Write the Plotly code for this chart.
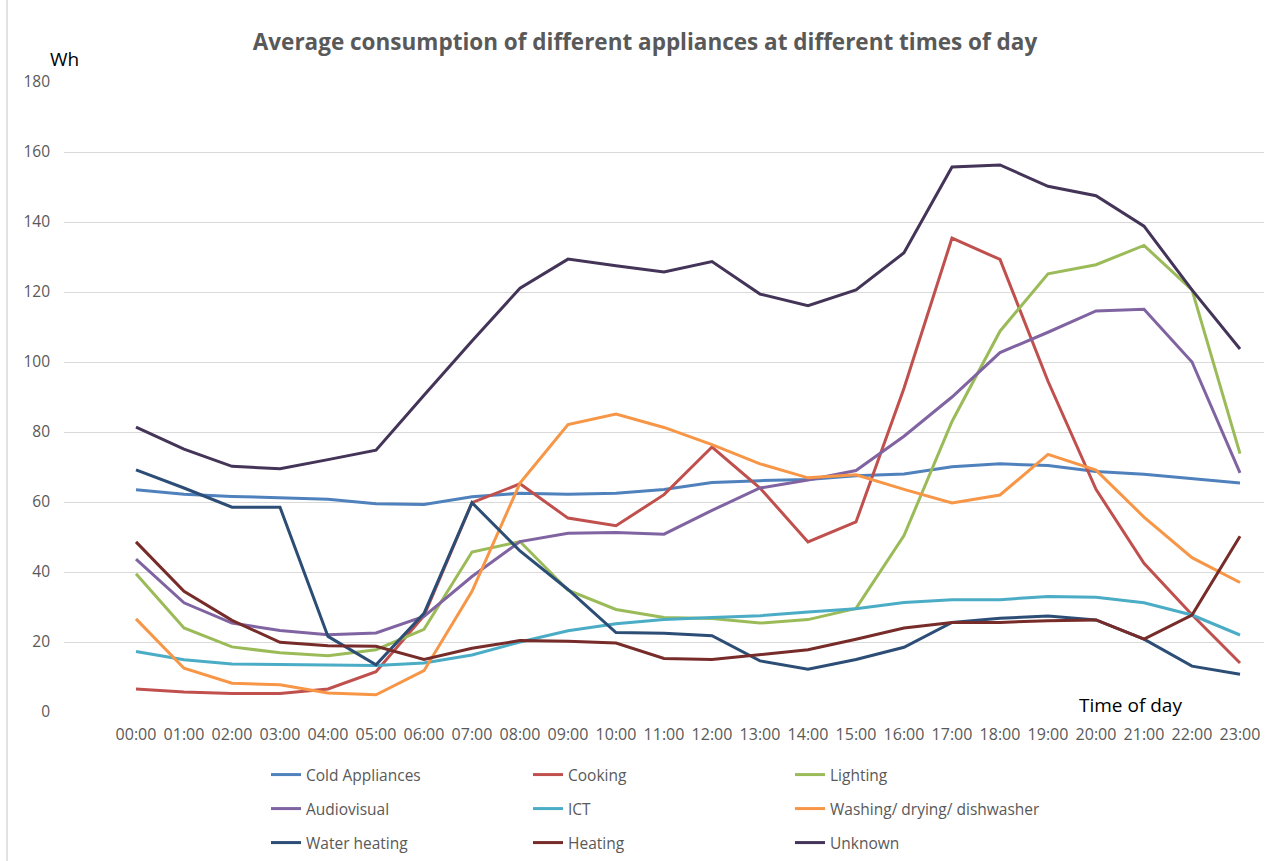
import plotly.graph_objects as go

hours = ["%02d:00" % h for h in range(24)]

cold_appliances = [63.5, 62.2, 61.6, 61.3, 60.8, 59.5, 59.3, 61.5, 62.5, 62.2, 62.5, 63.6,
                   65.6, 66.1, 66.4, 67.5, 68.0, 70.1, 70.9, 70.4, 68.7, 67.9, 66.7, 65.4]
cooking = [6.6, 5.7, 5.3, 5.3, 6.6, 11.5, 27.5, 59.8, 65.2, 55.4, 53.2, 62.1,
           75.7, 64.0, 48.6, 54.3, 92.5, 135.4, 129.3, 94.5, 63.6, 42.5, 27.8, 14.0]
lighting = [39.5, 24.0, 18.6, 16.9, 16.1, 17.8, 23.6, 45.7, 48.7, 34.8, 29.3, 27.0,
            26.7, 25.4, 26.4, 29.6, 50.4, 83.0, 108.8, 125.2, 127.8, 133.3, 120.6, 73.8]
audiovisual = [43.7, 31.2, 25.4, 23.3, 22.1, 22.6, 27.3, 38.7, 48.7, 51.1, 51.3, 50.8,
               57.6, 64.0, 66.3, 69.0, 78.8, 90.0, 102.7, 108.5, 114.6, 115.1, 100.0, 68.3]
ict = [17.3, 14.9, 13.7, 13.5, 13.3, 13.3, 14.0, 16.3, 20.0, 23.2, 25.2, 26.4,
       27.0, 27.5, 28.6, 29.5, 31.3, 32.1, 32.1, 33.0, 32.8, 31.2, 27.7, 22.0]
washing = [26.6, 12.5, 8.2, 7.8, 5.4, 4.9, 11.8, 34.5, 65.4, 82.1, 85.1, 81.3,
           76.4, 70.9, 66.9, 67.8, 63.6, 59.7, 62.0, 73.6, 69.1, 55.7, 44.1, 37.0]
water_heating = [69.2, 64.0, 58.5, 58.5, 21.6, 13.5, 28.2, 59.8, 46.0, 35.0, 22.7, 22.5,
                 21.8, 14.6, 12.2, 15.0, 18.5, 25.6, 26.8, 27.4, 26.3, 20.8, 13.1, 10.8]
heating = [48.6, 34.5, 26.2, 19.9, 18.9, 18.8, 15.0, 18.2, 20.4, 20.2, 19.7, 15.3,
           15.0, 16.4, 17.8, 20.8, 24.0, 25.6, 25.6, 26.1, 26.3, 20.8, 27.7, 50.2]
unknown = [81.4, 75.1, 70.2, 69.5, 72.1, 74.8, 90.5, 106.0, 121.1, 129.4, 127.5, 125.7,
           128.7, 119.4, 116.1, 120.6, 131.2, 155.7, 156.3, 150.2, 147.5, 138.8, 120.6, 103.7]

series = [
    ("Cold Appliances", cold_appliances, "#4F81BD", "legend"),
    ("Cooking", cooking, "#C0504D", "legend"),
    ("Lighting", lighting, "#9BBB59", "legend"),
    ("Audiovisual", audiovisual, "#8064A2", "legend2"),
    ("ICT", ict, "#4BACC6", "legend2"),
    ("Washing/ drying/ dishwasher", washing, "#F79646", "legend2"),
    ("Water heating", water_heating, "#2C4D75", "legend3"),
    ("Heating", heating, "#772C2A", "legend3"),
    ("Unknown", unknown, "#433458", "legend3"),
]

FONT = "Open Sans"
GRAY = "#595959"

fig = go.Figure()
for name, vals, color, leg in series:
    fig.add_trace(go.Scatter(x=hours, y=vals, name=name, mode="lines",
                             line=dict(color=color, width=3), legend=leg))

W, H = 1282, 861
ML, MR, MT, MB = 64, 18, 82, 149
PW, PH = W - ML - MR, H - MT - MB


def px_x(p):
    return (p - ML) / PW


def px_y(p):
    return (H - MB - p) / PH


legend_common = dict(orientation="h", xanchor="left", yanchor="middle",
                     entrywidth=217, entrywidthmode="pixels",
                     font=dict(family=FONT, size=15.5, color=GRAY),
                     bgcolor="rgba(0,0,0,0)", itemwidth=30, traceorder="normal")

fig.update_layout(
    width=W, height=H,
    margin=dict(l=ML, r=MR, t=MT, b=MB, autoexpand=False),
    paper_bgcolor="white", plot_bgcolor="white",
    font=dict(family=FONT, color=GRAY),
    title=dict(text="<b>Average consumption of different appliances at different times of day</b>",
               x=645 / W, xanchor="center", y=1 - 42 / H, yanchor="middle",
               font=dict(family=FONT, size=22.5, color=GRAY)),
    xaxis=dict(type="category", range=[-1.5, 23.5], showgrid=False, zeroline=False,
               showline=False, ticks="", tickangle=0, ticklabelstandoff=11,
               tickfont=dict(family=FONT, size=16, color=GRAY)),
    yaxis=dict(range=[0, 180], dtick=20, showgrid=True, gridcolor="#D9D9D9", gridwidth=1,
               zeroline=False, showline=False, ticks="", ticklabelstandoff=13,
               tickfont=dict(family=FONT, size=15.5, color=GRAY)),
    legend=dict(x=px_x(266), y=px_y(775), **legend_common),
    legend2=dict(x=px_x(266), y=px_y(809), **legend_common),
    legend3=dict(x=px_x(266), y=px_y(843), **legend_common),
    annotations=[
        dict(text="Wh", xref="paper", yref="paper", x=px_x(64), y=px_y(59),
             xanchor="center", yanchor="middle", showarrow=False,
             font=dict(family=FONT, size=19, color="#000000")),
        dict(text="Time of day", xref="paper", yref="paper", x=px_x(1130), y=px_y(705),
             xanchor="center", yanchor="middle", showarrow=False,
             font=dict(family=FONT, size=19, color="#000000")),
    ],
    shapes=[
        dict(type="line", xref="paper", yref="paper", x0=px_x(7), x1=px_x(7),
             y0=px_y(0), y1=px_y(861), line=dict(color="#D9D9D9", width=1.5)),
    ],
)

fig.write_html("out.html", config={"displayModeBar": False},
               post_script="document.body.style.margin='0';document.body.style.overflow='hidden';")
